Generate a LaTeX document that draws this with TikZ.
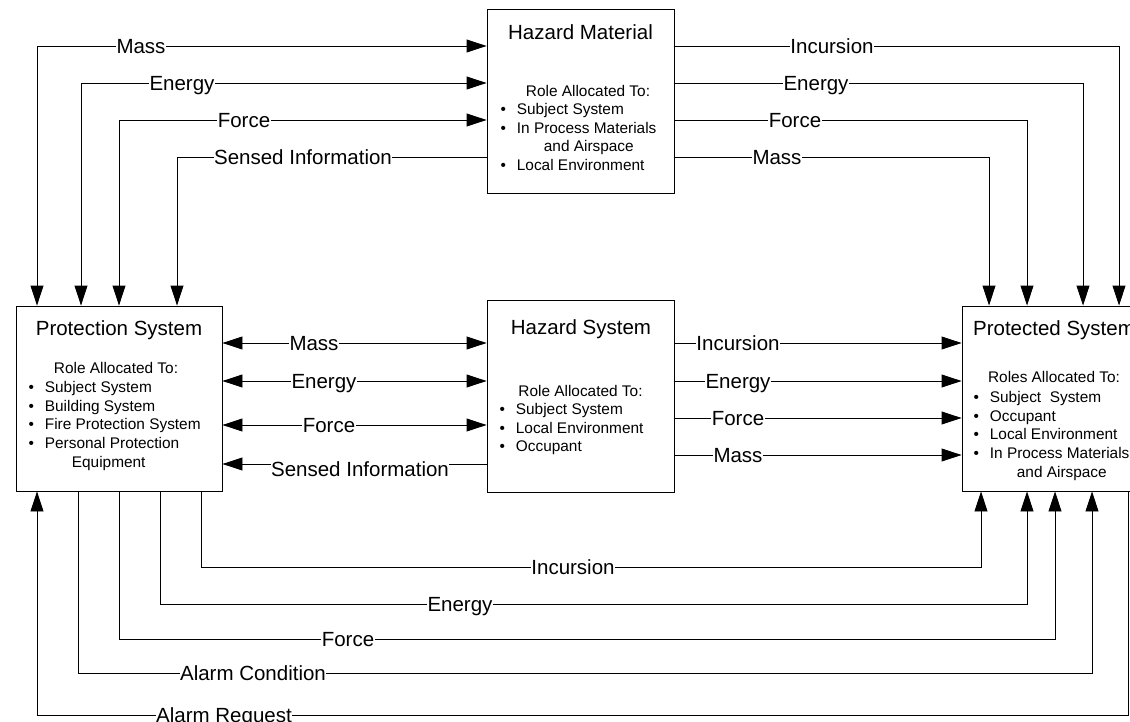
\documentclass[tikz,border=0pt]{standalone}
\usepackage{fontspec}
\setmainfont{Liberation Sans}
\usetikzlibrary{arrows.meta}
\newcommand{\titlefont}{\fontsize{20.5}{24}\selectfont}
\newcommand{\bodyfont}{\fontsize{15.4}{18.7}\selectfont}
\newcommand{\roles}[1]{\begin{tabular}[t]{@{}l@{\hspace{11pt}}l@{}}#1\end{tabular}}

\begin{document}
\begin{tikzpicture}[x=1pt, y=-1pt,
	box/.style={draw, line width=0.9pt, inner sep=0pt},
	title/.style={anchor=base, inner sep=0pt, font=\titlefont},
	head/.style={anchor=base, inner sep=0pt, font=\bodyfont},
	list/.style={anchor=base west, inner sep=0pt, font=\bodyfont},
	lbl/.style={fill=white, font=\titlefont, text height=14.7pt, text depth=0pt, inner xsep=0.5pt, inner ysep=1pt},
	flow/.style={line width=0.9pt, -{Triangle[length=20pt, width=13pt]}},
	both/.style={line width=0.9pt, {Triangle[length=20pt, width=13pt]}-{Triangle[length=20pt, width=13pt]}}]
			\useasboundingbox (0,0) rectangle (1130,722);
			\fill[white] (0,0) rectangle (1130,722);
			
			% the four systems
			\node[box, minimum width=187pt, minimum height=184pt] (hm) at (580.5,101) {};
			\node[title] (hm-title) at (580.5,39.5) {Hazard Material};
			\node[head] (hm-head) at (588,96.5) {Role Allocated To:};
			\node[list] (hm-list) at (500.3,114.5) {\roles{\textbullet & Subject System\\ \textbullet & In Process Materials\\ & \hspace{27pt}and Airspace\\ \textbullet & Local Environment}};
			
			\node[box, minimum width=206pt, minimum height=185pt] (ps) at (119,398.5) {};
			\node[title] (ps-title) at (119,335.5) {Protection System};
			\node[head] (ps-head) at (116,373.5) {Role Allocated To:};
			\node[list] (ps-list) at (28.3,392.5) {\roles{\textbullet & Subject System\\ \textbullet & Building System\\ \textbullet & Fire Protection System\\ \textbullet & Personal Protection\\ & \hspace{27pt}Equipment}};
			
			\node[box, minimum width=187pt, minimum height=192pt] (hs) at (580.5,396) {};
			\node[title] (hs-title) at (581,334.5) {Hazard System};
			\node[head] (hs-head) at (580.5,396.5) {Role Allocated To:};
			\node[list] (hs-list) at (499.3,414.5) {\roles{\textbullet & Subject System\\ \textbullet & Local Environment\\ \textbullet & Occupant}};
			
			\node[box, minimum width=184pt, minimum height=185pt] (pd) at (1054,398.5) {};
			\node[title] (pd-title) at (1054,335.5) {Protected System};
			\node[head] (pd-head) at (1054,382.5) {Roles Allocated To:};
			\node[list] (pd-list) at (973.3,402.5) {\roles{\textbullet & Subject\ \ System\\ \textbullet & Occupant\\ \textbullet & Local Environment\\ \textbullet & In Process Materials\\ & \hspace{27pt}and Airspace}};
			
			% hazard material <-> protection system
			\draw[both] (hm.west |- 0,46) -| (ps.north -| 37,0);
			\node[lbl] (tl-mass) at (141,46) {Mass};
			\draw[both] (hm.west |- 0,83) -| (ps.north -| 81,0);
			\node[lbl] (tl-energy) at (182,83) {Energy};
			\draw[both] (hm.west |- 0,120) -| (ps.north -| 119,0);
			\node[lbl] (tl-force) at (244,120) {Force};
			\draw[flow] (hm.west |- 0,157) -| (ps.north -| 177,0);
			\node[lbl] (tl-sensed) at (303,157) {Sensed Information};
			
			% hazard material -> protected system
			\draw[flow] (hm.east |- 0,46) -| (pd.north -| 1119,0);
			\node[lbl] (tr-incursion) at (832,46) {Incursion};
			\draw[flow] (hm.east |- 0,83) -| (pd.north -| 1083,0);
			\node[lbl] (tr-energy) at (816,83) {Energy};
			\draw[flow] (hm.east |- 0,120) -| (pd.north -| 1027,0);
			\node[lbl] (tr-force) at (795,120) {Force};
			\draw[flow] (hm.east |- 0,157) -| (pd.north -| 989,0);
			\node[lbl] (tr-mass) at (777,157) {Mass};
			
			% protection system <-> hazard system
			\draw[both] (ps.east |- 0,343) -- (hs.west |- 0,343);
			\node[lbl] (ml-mass) at (314,343) {Mass};
			\draw[both] (ps.east |- 0,381) -- (hs.west |- 0,381);
			\node[lbl] (ml-energy) at (324,381) {Energy};
			\draw[both] (ps.east |- 0,425) -- (hs.west |- 0,425);
			\node[lbl] (ml-force) at (329,425) {Force};
			\draw[flow] (hs.west |- 0,464) -- (ps.east |- 0,464);
			\node[lbl] (ml-sensed) at (360,469) {Sensed Information};
			
			% hazard system -> protected system
			\draw[flow] (hs.east |- 0,343) -- (pd.west |- 0,343);
			\node[lbl] (mr-incursion) at (738,343) {Incursion};
			\draw[flow] (hs.east |- 0,381) -- (pd.west |- 0,381);
			\node[lbl] (mr-energy) at (738,381) {Energy};
			\draw[flow] (hs.east |- 0,418) -- (pd.west |- 0,418);
			\node[lbl] (mr-force) at (738,418) {Force};
			\draw[flow] (hs.east |- 0,455) -- (pd.west |- 0,455);
			\node[lbl] (mr-mass) at (738,455) {Mass};
			
			% protection system <-> protected system, underneath
			\draw[flow] (ps.south -| 201,0) |- (981,567) -- (pd.south -| 981,0);
			\node[lbl] (b-incursion) at (573,567) {Incursion};
			\draw[flow] (ps.south -| 160,0) |- (1027,604) -- (pd.south -| 1027,0);
			\node[lbl] (b-energy) at (460,604) {Energy};
			\draw[flow] (ps.south -| 119,0) |- (1055,639) -- (pd.south -| 1055,0);
			\node[lbl] (b-force) at (348,639) {Force};
			\draw[flow] (ps.south -| 78,0) |- (1092,673) -- (pd.south -| 1092,0);
			\node[lbl] (b-condition) at (253,673) {Alarm Condition};
			\draw[flow] (pd.south -| 1128,0) |- (37,715) -- (ps.south -| 37,0);
			\node[lbl] (b-request) at (224,715) {Alarm Request};
		\end{tikzpicture}
\end{document}
